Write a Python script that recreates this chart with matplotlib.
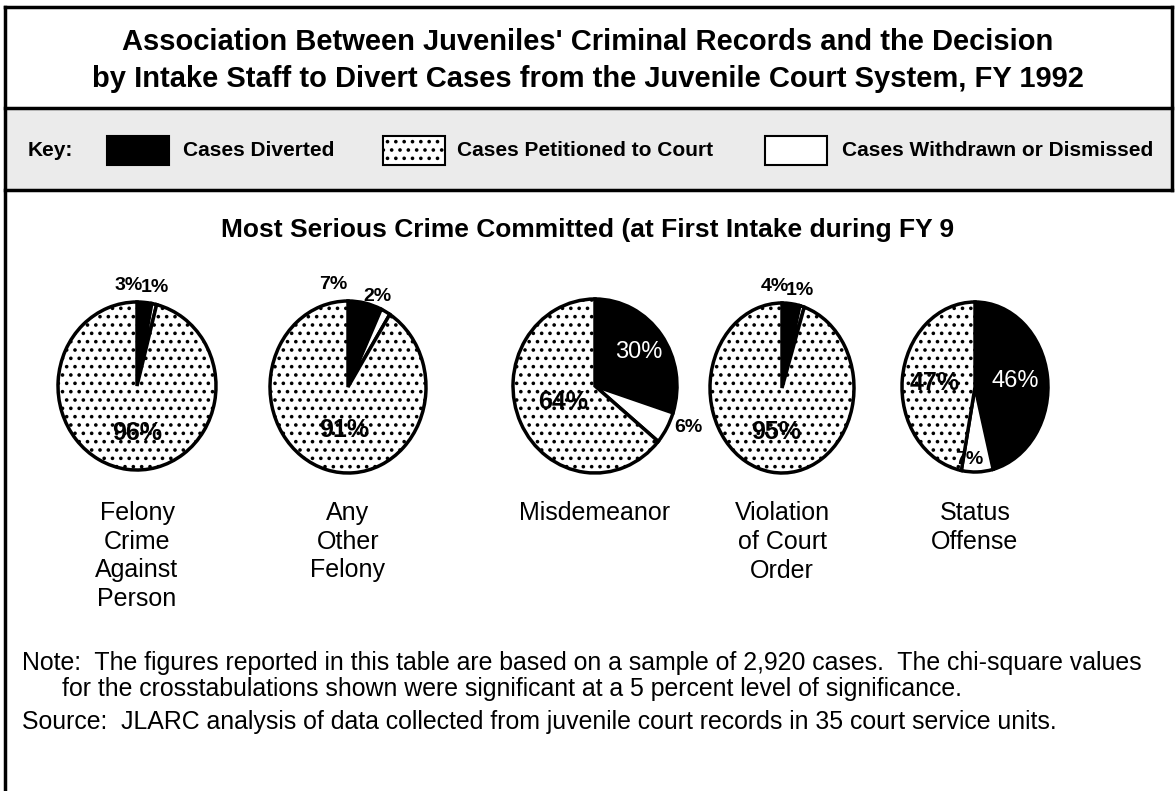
import matplotlib.pyplot as plt
import numpy as np
from matplotlib.patches import Rectangle

plt.rcParams['hatch.linewidth'] = 1.4

# data
categories = ["Felony\nCrime\nAgainst\nPerson", "Any\nOther\nFelony", "Misdemeanor",
              "Violation\nof Court\nOrder", "Status\nOffense"]
diverted = [3, 7, 30, 4, 46]
withdrawn = [1, 2, 6, 1, 7]
petitioned = [96, 91, 64, 95, 47]
key_labels = ["Cases Diverted", "Cases Petitioned to Court", "Cases Withdrawn or Dismissed"]

W, H = 1176, 791
sans = ['Liberation Sans', 'DejaVu Sans']

fig = plt.figure(figsize=(W / 100, H / 100), dpi=100)
bg = fig.add_axes([0, 0, 1, 1])
bg.set_xlim(0, W)
bg.set_ylim(H, 0)
bg.axis('off')

# frame and key band
bg.add_patch(Rectangle((5, 108), 1167, 82, facecolor='#ebebeb', edgecolor='none'))
bg.plot([5, 5], [7, H], color='black', lw=2.5)
bg.plot([5, 1172], [7, 7], color='black', lw=2.5)
bg.plot([1172, 1172], [7, 190], color='black', lw=2.5)
bg.plot([5, 1172], [108, 108], color='black', lw=2.5)
bg.plot([5, 1172], [190, 190], color='black', lw=2.5)

bg.text(588, 42, "Association Between Juveniles' Criminal Records and the Decision",
        ha='center', va='center', fontsize=21, fontweight='bold', family=sans)
bg.text(588, 79, "by Intake Staff to Divert Cases from the Juvenile Court System, FY 1992",
        ha='center', va='center', fontsize=21, fontweight='bold', family=sans)

# key
bg.text(28, 150, "Key:", ha='left', va='center', fontsize=15, fontweight='bold', family=sans)
key_x = [107, 383, 765]
key_tx = [183, 457, 842]
key_fc = ['black', 'white', 'white']
key_hatch = [None, '..', None]
for i in range(3):
    bg.add_patch(Rectangle((key_x[i], 136), 62, 29, facecolor=key_fc[i], edgecolor='black',
                           lw=1.5, hatch=key_hatch[i]))
    bg.text(key_tx[i], 150, key_labels[i], ha='left', va='center', fontsize=15,
            fontweight='bold', family=sans)

bg.text(588, 230, "Most Serious Crime Committed (at First Intake during FY 9",
        ha='center', va='center', fontsize=19, fontweight='bold', family=sans)

# pies
centers = [(137, 386, 79, 84), (348, 387, 78, 86), (595, 386, 82, 87),
           (782, 388, 72, 85), (975, 387, 73, 85)]
# (style, radius, dx, dy) for diverted, withdrawn, petitioned
label_layout = [
    [('small', 1.2, -0.22, 0), ('small', 1.2, -0.03, 0), ('big', 0.56, 0.07, 0)],
    [('small', 1.22, -0.46, 0), ('small', 1.2, -0.2, 0), ('big', 0.52, 0.1, 0)],
    [('white', 0.66, 0, 0), ('small', 1.3, 0, 0.15), ('big', 0.43, 0, 0)],
    [('small', 1.2, -0.25, 0), ('small', 1.2, -0.08, 0), ('big', 0.52, 0, 0)],
    [('white', 0.55, 0, 0), ('small', 0.85, -0.1, 0), ('big', 0.56, 0, 0)],
]
styles = {
    'small': dict(fontsize=14, fontweight='bold', family=sans, color='black'),
    'big': dict(fontsize=18, fontweight='bold', family=sans, color='black'),
    'white': dict(fontsize=17, fontweight='normal', family=sans, color='white'),
}

for i in range(5):
    cx, cy, rx, ry = centers[i]
    ax = fig.add_axes([(cx - 1.5 * rx) / W, 1 - (cy + 1.5 * ry) / H, 3 * rx / W, 3 * ry / H])
    vals = [diverted[i], withdrawn[i], petitioned[i]]
    wedges, _ = ax.pie(vals, colors=['black', 'white', 'white'], startangle=90,
                       counterclock=False,
                       wedgeprops=dict(edgecolor='black', linewidth=2.5))
    wedges[2].set_hatch('..')
    ax.set_aspect('auto')
    ax.set_xlim(-1.5, 1.5)
    ax.set_ylim(-1.5, 1.5)
    for w, v, (st, r, dx, dy) in zip(wedges, vals, label_layout[i]):
        mid = np.deg2rad((w.theta1 + w.theta2) / 2)
        ax.text(r * np.cos(mid) + dx, r * np.sin(mid) + dy, f"{v}%",
                ha='center', va='center', **styles[st])
    bg.text(cx, 501, categories[i], ha='center', va='top', fontsize=18, family=sans,
            linespacing=1.25)

bg.text(22, 663, "Note:  The figures reported in this table are based on a sample of 2,920 cases.  "
        "The chi-square values", ha='left', va='center', fontsize=17.9, family=sans)
bg.text(62, 689, "for the crosstabulations shown were significant at a 5 percent level of significance.",
        ha='left', va='center', fontsize=17.9, family=sans)
bg.text(22, 722, "Source:  JLARC analysis of data collected from juvenile court records in 35 court service units.",
        ha='left', va='center', fontsize=17.9, family=sans)

fig.savefig('out.png', dpi=100)
